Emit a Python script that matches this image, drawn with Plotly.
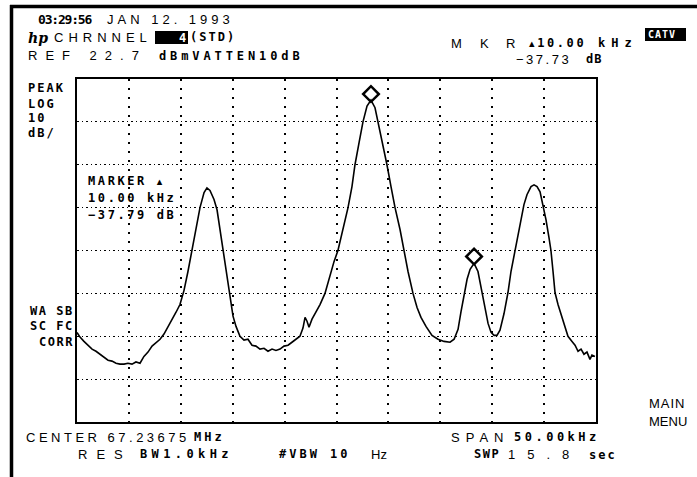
import plotly.graph_objects as go

# ---- data (span 0..50 kHz, level in dBmV) ----
freq_khz = [0.0, 0.29, 0.67, 1.06, 1.45, 1.83, 2.22, 2.60, 2.99, 3.37, 3.76, 4.14, 4.53, 4.91, 5.30, 5.68,
            6.07, 6.45, 6.84, 7.23, 7.61, 8.00, 8.38, 8.77, 9.15, 9.54, 9.92, 10.31, 10.69, 11.08, 11.46,
            11.85, 12.24, 12.52, 12.81, 13.20, 13.49, 13.78, 14.07, 14.35, 14.64, 15.03, 15.32, 15.70,
            16.09, 16.47, 16.86, 17.24, 17.63, 18.02, 18.40, 18.79, 19.17, 19.56, 19.94, 20.33, 20.71,
            21.10, 21.48, 21.77, 21.97, 22.16, 22.35, 22.64, 23.03, 23.41, 23.89, 24.37, 24.76, 25.14,
            25.63, 26.11, 26.49, 26.78, 27.17, 27.55, 27.94, 28.32, 28.71, 29.00, 29.38, 29.86, 30.25,
            30.64, 31.12, 31.50, 31.89, 32.37, 32.76, 33.14, 33.62, 34.20, 34.78, 35.36, 35.94, 36.33,
            36.71, 37.00, 37.29, 37.58, 37.87, 38.25, 38.63, 39.02, 39.31, 39.60, 39.89, 40.18, 40.46,
            40.75, 41.14, 41.52, 41.81, 42.20, 42.49, 42.77, 43.06, 43.35, 43.74, 44.03, 44.32, 44.61,
            44.89, 45.18, 45.47, 45.66, 45.86, 46.05, 46.34, 46.63, 47.01, 47.30, 47.69, 47.98, 48.27,
            48.56, 48.84, 49.13, 49.42, 49.61, 49.90]
level_dbmv = [-36.4, -37.5, -38.5, -39.4, -40.3, -40.8, -41.5, -42.2, -42.9, -43.1, -43.6, -43.8, -43.8,
              -43.6, -43.8, -43.3, -43.6, -42.0, -41.0, -39.6, -38.7, -38.0, -36.8, -35.2, -33.3, -31.7,
              -29.9, -26.6, -22.2, -17.3, -12.2, -7.3, -3.8, -2.7, -3.3, -5.4, -7.8, -12.4, -17.3, -22.2,
              -27.1, -32.6, -35.0, -37.3, -38.2, -38.0, -39.4, -39.6, -40.3, -40.1, -40.8, -40.3, -40.6,
              -40.3, -39.6, -39.4, -38.7, -38.0, -37.3, -35.4, -32.9, -33.8, -35.2, -33.3, -31.5, -29.9,
              -27.3, -22.9, -19.9, -17.3, -12.4, -7.3, -2.4, 2.7, 7.8, 12.7, 16.4, 17.8, 16.0, 12.7, 7.8,
              2.7, -2.4, -7.3, -12.4, -17.3, -22.2, -27.3, -30.6, -32.9, -35.0, -37.1, -38.0, -38.5,
              -38.7, -38.0, -35.7, -31.5, -27.3, -24.0, -21.7, -20.3, -22.2, -27.3, -31.0, -34.3, -36.4,
              -37.1, -37.1, -35.9, -32.0, -27.1, -22.2, -17.3, -12.9, -9.6, -6.6, -4.3, -2.4, -2.0, -2.4,
              -3.6, -6.6, -10.1, -14.3, -17.3, -22.2, -27.1, -29.9, -32.2, -35.2, -37.3, -38.5, -39.4,
              -40.8, -40.3, -41.5, -41.0, -42.7, -41.7, -42.0]
marker_freq_khz = [28.32, 38.25]
marker_level_dbmv = [19.2, -18.7]

ref_level_dbmv = 22.7
db_per_div = 10
n_vdiv = 8
span_khz = 50.0
n_hdiv = 10

# ---- layout geometry ----
W, H = 697, 477
ML, MR, MT, MB = 77, 101, 79, 55
PW = W - ML - MR
PH = H - MT - MB


def px(x):
    return (x - ML) / PW


def py(y):
    return (H - MB - y) / PH


fig = go.Figure()
fig.add_trace(go.Scatter(x=freq_khz, y=level_dbmv, mode='lines',
                         line=dict(color='black', width=1.6), hoverinfo='skip', showlegend=False))
fig.add_trace(go.Scatter(x=marker_freq_khz, y=marker_level_dbmv, mode='markers',
                         marker=dict(symbol='diamond-open', size=12, color='black',
                                     line=dict(width=2.5, color='black')),
                         hoverinfo='skip', showlegend=False))

BOLD = "DejaVu Sans Mono"
THIN = "Liberation Sans"
TRI = "<span style='font-family:DejaVu Sans;font-size:11px'>▴</span>"


def txt(s, x, y, size=12, bold=False, ls=0, anchor='left', color='black', family=None):
    fam = family or (BOLD if bold else THIN)
    t = f"<b>{s}</b>" if bold else s
    if ls:
        t = f"<span style='letter-spacing:{ls}px'>{t}</span>"
    fig.add_annotation(text=t, x=px(x), y=py(y), xref='paper', yref='paper',
                       xanchor=anchor, yanchor='middle', showarrow=False, borderpad=0,
                       font=dict(family=fam, size=size, color=color))


# header
txt("03:29:56", 37, 20, size=13, bold=True, ls=-1.2)
txt("JAN 12. 1993", 106, 20, size=13, ls=4)
txt("<i>hp</i>", 27, 38, size=14, bold=True, family="DejaVu Serif")
txt("CHRNNEL", 53, 38, size=13, ls=5)
txt("4", 178, 38, size=12, bold=True, color='white')
txt("(STD)", 189, 37, size=12, bold=True, ls=2)
txt("REF 22.7", 27, 56, size=13, ls=8)
txt("dBmVATTEN10dB", 158, 56, size=12, bold=True, ls=3.9)
txt("M", 450, 43, size=13)
txt("K", 479, 43, size=13)
txt("R", 505, 43, size=13)
txt(TRI + "10.00", 528, 43, size=12, bold=True, ls=2.6)
txt("kHz", 597, 43, size=12, bold=True, ls=6)
txt("CATV", 647, 35, size=10, bold=True, color='white', ls=1)
txt("−37.73", 515, 59, size=13, ls=2.5)
txt("dB", 585, 59, size=12, bold=True, ls=1)

# left panel
txt("PEAK", 27, 88, bold=True, ls=2)
txt("LOG", 27, 104, bold=True, ls=2)
txt("10", 27, 118, bold=True, ls=2)
txt("dB/", 27, 133, bold=True, ls=2)
txt("WA SB", 75, 311, bold=True, ls=1.5, anchor='right')
txt("SC FC", 75, 326, bold=True, ls=1.5, anchor='right')
txt("CORR", 75, 342, bold=True, ls=1.5, anchor='right')

# marker readout inside the graticule
txt("MARKER " + TRI, 87, 181, bold=True, ls=2.6)
txt("10.00 kHz", 87, 198, bold=True, ls=2.6)
txt("−37.79 dB", 87, 215, bold=True, ls=2.6)

# footer
txt("CENTER 67.23675", 25, 437, size=13, ls=3.5)
txt("MHz", 193, 437, bold=True, ls=3)
txt("RES", 77, 454, size=13, ls=9)
txt("BW1.0kHz", 139, 454, bold=True, ls=4.4)
txt("#VBW 10", 278, 454, bold=True, ls=3)
txt("Hz", 370, 454, size=13)
txt("SPAN", 450, 437, size=13, ls=6)
txt("50.00kHz", 513, 437, bold=True, ls=3.5)
txt("SWP", 473, 454, bold=True, ls=1.5)
txt("15.8", 507, 454, size=13, ls=12)
txt("sec", 588, 455, bold=True, ls=2)
txt("MAIN", 648, 403, size=13, ls=1)
txt("MENU", 648, 421, size=13)

shapes = [
    dict(type='line', xref='paper', yref='paper', x0=px(10), x1=px(700), y0=py(6.5), y1=py(6.5),
         line=dict(color='black', width=3.5)),
    dict(type='line', xref='paper', yref='paper', x0=px(11.5), x1=px(11.5), y0=py(5), y1=py(480),
         line=dict(color='black', width=3.5)),
    dict(type='rect', xref='paper', yref='paper', x0=px(155), x1=px(188), y0=py(31), y1=py(44),
         fillcolor='black', line=dict(width=0), layer='below'),
    dict(type='rect', xref='paper', yref='paper', x0=px(645), x1=px(686), y0=py(28), y1=py(41),
         fillcolor='black', line=dict(width=0), layer='below'),
]

fig.update_layout(
    width=W, height=H,
    margin=dict(l=ML, r=MR, t=MT, b=MB, pad=0),
    paper_bgcolor='white', plot_bgcolor='white',
    shapes=shapes, showlegend=False,
    xaxis=dict(range=[0, span_khz], tick0=0, dtick=span_khz / n_hdiv, showticklabels=False,
               ticks='', showgrid=True, gridcolor='black', gridwidth=1.5, griddash='2px,7px',
               zeroline=False, showline=True, linecolor='black', linewidth=2, mirror=True,
               fixedrange=True),
    yaxis=dict(range=[ref_level_dbmv - db_per_div * n_vdiv, ref_level_dbmv], tick0=ref_level_dbmv,
               dtick=db_per_div, showticklabels=False, ticks='', showgrid=True, gridcolor='black',
               gridwidth=1.3, griddash='1.5px,3px', zeroline=False, showline=True,
               linecolor='black', linewidth=2, mirror=True, fixedrange=True),
)

fig.write_html("out.html", config={'displayModeBar': False},
               post_script="document.body.style.margin='0';")
